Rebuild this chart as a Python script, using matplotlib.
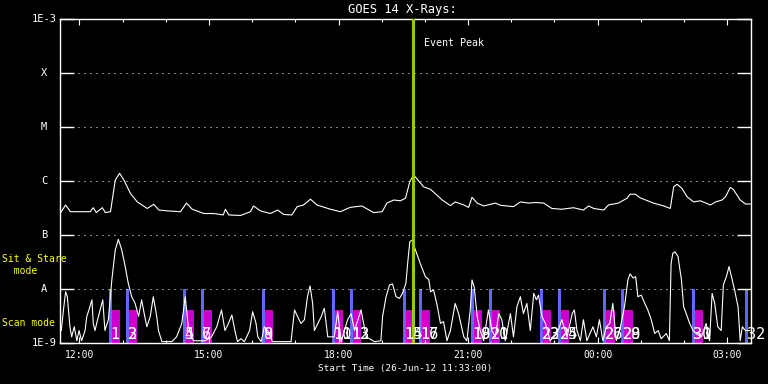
import matplotlib
matplotlib.use("Agg")
import matplotlib.pyplot as plt

plt.rcParams["font.family"] = ["DejaVu Sans Mono"]

START = "11:33"
PEAK = "19:44"

# GOES 14 long channel (1-8 A): hours after start, flux in W/m^2
long_t = [0.03, 0.13, 0.24, 0.70, 0.77, 0.84, 0.98, 1.05, 1.17, 1.21, 1.28, 1.38, 1.48,
          1.63, 1.79, 2.02, 2.17, 2.29, 2.48, 2.79, 2.93, 3.06, 3.33, 3.56, 3.78, 3.83,
          3.91, 4.18, 4.41, 4.48, 4.64, 4.87, 5.04, 5.18, 5.37, 5.49, 5.64, 5.80, 5.95,
          6.26, 6.49, 6.72, 6.99, 7.26, 7.46, 7.57, 7.73, 7.88, 8.00, 8.10, 8.19, 8.42,
          8.58, 8.85, 9.04, 9.15, 9.35, 9.46, 9.54, 9.66, 9.81, 10.08, 10.20, 10.50,
          10.66, 10.85, 11.01, 11.20, 11.39, 11.62, 11.89, 12.12, 12.24, 12.36, 12.59,
          12.70, 12.93, 13.13, 13.20, 13.32, 13.43, 13.74, 13.98, 14.13, 14.21, 14.29,
          14.40, 14.52, 14.67, 14.83, 15.06, 15.18, 15.33, 15.41, 15.52, 15.59, 15.75,
          15.87, 15.98]
long_flux = [2.7e-7, 3.6e-7, 2.7e-7, 2.7e-7, 3.2e-7, 2.6e-7, 3.2e-7, 2.6e-7, 2.7e-7,
             4.45e-7, 1.04e-6, 1.39e-6, 1.04e-6, 5.9e-7, 4.1e-7, 3.1e-7, 3.7e-7, 2.9e-7,
             2.8e-7, 2.7e-7, 3.9e-7, 3.0e-7, 2.5e-7, 2.5e-7, 2.35e-7, 3.0e-7, 2.35e-7,
             2.3e-7, 2.7e-7, 3.45e-7, 2.8e-7, 2.5e-7, 2.9e-7, 2.4e-7, 2.35e-7, 3.35e-7,
             3.6e-7, 4.6e-7, 3.6e-7, 3.0e-7, 2.7e-7, 3.25e-7, 3.45e-7, 2.6e-7, 2.7e-7,
             3.9e-7, 4.45e-7, 4.3e-7, 4.8e-7, 9.7e-7, 1.29e-6, 7.8e-7, 7.0e-7, 4.45e-7,
             3.5e-7, 4.1e-7, 3.6e-7, 3.25e-7, 5.0e-7, 3.9e-7, 3.45e-7, 3.9e-7, 3.55e-7,
             3.35e-7, 4.1e-7, 3.9e-7, 4.0e-7, 3.9e-7, 3.1e-7, 3.0e-7, 3.2e-7, 2.9e-7,
             3.45e-7, 3.1e-7, 2.9e-7, 3.6e-7, 3.9e-7, 4.8e-7, 5.7e-7, 5.7e-7, 4.9e-7,
             3.9e-7, 3.45e-7, 3.1e-7, 7.8e-7, 8.7e-7, 7.3e-7, 5.1e-7, 4.1e-7, 4.3e-7,
             3.6e-7, 4.1e-7, 4.45e-7, 5.1e-7, 7.6e-7, 7.0e-7, 4.45e-7, 3.75e-7, 3.75e-7]

# short channel (0.5-4 A)
short_t = [0.03, 0.08, 0.13, 0.17, 0.23, 0.27, 0.33, 0.39, 0.44, 0.50, 0.58, 0.62, 0.67,
           0.74, 0.77, 0.81, 0.87, 0.93, 0.99, 1.04, 1.12, 1.20, 1.28, 1.35, 1.43, 1.51,
           1.58, 1.66, 1.74, 1.82, 1.89, 1.95, 2.01, 2.09, 2.16, 2.24, 2.28, 2.36, 2.59,
           2.70, 2.82, 2.90, 2.97, 3.09, 3.36, 3.51, 3.63, 3.74, 3.82, 3.90, 3.98, 4.05,
           4.11, 4.19, 4.27, 4.39, 4.46, 4.54, 4.58, 4.66, 4.73, 4.81, 4.92, 5.35, 5.43,
           5.50, 5.58, 5.66, 5.73, 5.79, 5.85, 5.89, 5.97, 6.05, 6.12, 6.20, 6.35, 6.43,
           6.51, 6.66, 6.74, 6.82, 6.97, 7.09, 7.28, 7.43, 7.47, 7.55, 7.63, 7.70, 7.78,
           7.86, 7.93, 8.01, 8.05, 8.10, 8.16, 8.19, 8.34, 8.46, 8.54, 8.58, 8.65, 8.73,
           8.81, 8.88, 8.96, 9.04, 9.15, 9.23, 9.35, 9.42, 9.50, 9.54, 9.59, 9.66, 9.73,
           9.81, 9.92, 10.00, 10.08, 10.16, 10.23, 10.31, 10.43, 10.50, 10.58, 10.66,
           10.73, 10.81, 10.89, 10.97, 11.03, 11.08, 11.16, 11.24, 11.35, 11.51, 11.62,
           11.74, 11.86, 11.91, 11.97, 12.05, 12.12, 12.20, 12.34, 12.42, 12.49, 12.57,
           12.65, 12.73, 12.80, 12.88, 12.96, 13.07, 13.15, 13.20, 13.27, 13.33, 13.38,
           13.46, 13.54, 13.61, 13.69, 13.77, 13.85, 13.92, 14.04, 14.11, 14.15, 14.19,
           14.24, 14.31, 14.39, 14.44, 14.50, 14.58, 14.66, 14.73, 14.85, 14.96, 15.04,
           15.10, 15.16, 15.23, 15.31, 15.36, 15.43, 15.49, 15.54, 15.62, 15.70, 15.75,
           15.80, 15.87, 15.97]
short_flux = [1.7e-9, 4.1e-9, 8.9e-9, 7.2e-9, 2.0e-9, 1.3e-9, 2.0e-9, 1.1e-9, 1.7e-9,
              1.1e-9, 1.7e-9, 3.1e-9, 4.1e-9, 6.3e-9, 2.3e-9, 1.7e-9, 2.7e-9, 4.1e-9,
              6.3e-9, 1.7e-9, 2.7e-9, 1.47e-8, 5.3e-8, 8.3e-8, 5.3e-8, 2.6e-8, 1.28e-8,
              7.2e-9, 5.4e-9, 3.1e-9, 6.3e-9, 3.5e-9, 2.0e-9, 3.1e-9, 7.2e-9, 3.1e-9,
              1.7e-9, 1.06e-9, 1.06e-9, 1.3e-9, 2.3e-9, 7.2e-9, 2.0e-9, 1.1e-9, 1.1e-9,
              1.3e-9, 2.0e-9, 4.1e-9, 1.7e-9, 2.3e-9, 3.3e-9, 1.7e-9, 1.06e-9, 1.2e-9,
              1.06e-9, 1.7e-9, 3.8e-9, 2.3e-9, 1.3e-9, 1.06e-9, 2.0e-9, 1.7e-9, 1.06e-9,
              1.06e-9, 4.1e-9, 3.1e-9, 2.3e-9, 2.7e-9, 7.2e-9, 1.14e-8, 5.4e-9, 1.7e-9,
              2.3e-9, 3.1e-9, 4.4e-9, 1.3e-9, 1.3e-9, 3.8e-9, 1.06e-9, 2.7e-9, 3.5e-9,
              1.7e-9, 4.1e-9, 1.3e-9, 1.06e-9, 1.1e-9, 3.1e-9, 7.2e-9, 1.19e-8, 1.24e-8,
              7.2e-9, 6.7e-9, 8.3e-9, 1.28e-8, 3.0e-8, 7.5e-8, 8.1e-8, 6.5e-8, 3.0e-8,
              1.69e-8, 1.5e-8, 8.9e-9, 9.6e-9, 5.1e-9, 2.3e-9, 2.5e-9, 1.1e-9, 1.7e-9,
              5.4e-9, 3.5e-9, 1.3e-9, 1.1e-9, 4.1e-9, 1.47e-8, 1.1e-8, 3.1e-9, 1.7e-9,
              1.1e-9, 4.1e-9, 1.7e-9, 1.3e-9, 3.5e-9, 2.7e-9, 1.1e-9, 3.5e-9, 1.3e-9,
              4.7e-9, 7.2e-9, 3.5e-9, 5.4e-9, 1.7e-9, 8.3e-9, 6.3e-9, 7.7e-9, 3.1e-9,
              2.3e-9, 1.1e-9, 1.5e-9, 2.7e-9, 1.3e-9, 3.5e-9, 4.1e-9, 1.7e-9, 1.1e-9,
              2.7e-9, 1.1e-9, 2.0e-9, 1.3e-9, 2.7e-9, 1.1e-9, 2.0e-9, 2.3e-9, 5.4e-9,
              1.1e-9, 1.7e-9, 4.7e-9, 1.47e-8, 1.9e-8, 1.6e-8, 1.69e-8, 7.2e-9, 7.7e-9,
              5.4e-9, 4.1e-9, 2.7e-9, 1.5e-9, 1.7e-9, 1.2e-9, 1.5e-9, 1.1e-9, 3.0e-8,
              4.6e-8, 4.9e-8, 4.0e-8, 1.47e-8, 4.7e-9, 3.5e-9, 2.3e-9, 1.7e-9, 1.5e-9,
              1.3e-9, 2.3e-9, 1.1e-9, 8.3e-9, 5.4e-9, 2.0e-9, 1.7e-9, 1.19e-8, 1.69e-8,
              2.6e-8, 1.8e-8, 9.6e-9, 4.7e-9, 1.1e-9, 2.0e-9, 1.7e-9, 1.7e-9]

# IRIS observation blocks (start times) and raster numbers
block_times = ["12:41", "13:05", "14:24", "14:49", "16:14", "17:51", "18:16", "19:29",
               "19:52", "21:04", "21:29", "22:40", "23:05", "00:08", "00:33", "02:11",
               "03:25"]
block_labels = [["1"], ["2", "3"], ["4", "5"], ["6", "7"], ["8", "9"], ["10", "11"],
                ["12", "13"], ["14", "15"], ["16", "17"], ["18", "19"], ["20", "21"],
                ["22", "23"], ["24", "25"], ["26", "27"], ["28", "29"], ["30", "31"],
                ["32"]]
has_scan = [True] * 16 + [False]

tick_labels = ["12:00", "15:00", "18:00", "21:00", "00:00", "03:00"]
level_values = [1e-9, 1e-8, 1e-7, 1e-6, 1e-5, 1e-4, 1e-3]
level_names = ["1E-9", "A", "B", "C", "M", "X", "1E-3"]
SPAN = 16.0  # hours shown


def hours_after_start(clock):
    h, m = (int(v) for v in clock.split(":"))
    h0, m0 = (int(v) for v in START.split(":"))
    return ((h * 60 + m) - (h0 * 60 + m0)) % 1440 / 60.0


W, H = 768, 384
fig = plt.figure(figsize=(W / 100, H / 100), dpi=100, facecolor="black")
ax = fig.add_axes([60 / W, 1 - 343 / H, 691 / W, 324 / H], facecolor="black")
ax.set_yscale("log")

# observation bars
blue_w, scan_off, scan_w = 0.068, 0.07, 0.19
for clock, labels, scan in zip(block_times, block_labels, has_scan):
    t = hours_after_start(clock)
    ax.bar(t, 1e-8 - 1e-9, bottom=1e-9, width=blue_w, align="edge",
           color="#6464ff", linewidth=0, zorder=1)
    if scan:
        ax.bar(t + scan_off, 4.1e-9 - 1e-9, bottom=1e-9, width=scan_w, align="edge",
               color="#cc00cc", linewidth=0, zorder=1)
    for lab in labels:
        ax.annotate(lab, (t, 1e-9), xytext=(1.0, 2.9), textcoords="offset points",
                    ha="left", va="baseline", color="white", fontsize=11, zorder=5,
                    annotation_clip=False)

ax.plot(long_t, long_flux, color="white", lw=0.8, zorder=3)
ax.plot(short_t, short_flux, color="white", lw=0.8, zorder=3)

peak_t = hours_after_start(PEAK)
ax.axvline(peak_t, color="#99cc00", lw=2.2, zorder=4)
ax.annotate("Event Peak", (peak_t, 1e-3), xytext=(7.5, -17.5), textcoords="offset points",
            ha="left", va="center", color="white", fontsize=7.2)

# axes styling
for sp in ax.spines.values():
    sp.set_color("white")
    sp.set_linewidth(1.0)
ax.set_yticks(level_values)
ax.set_yticklabels([])
ax.yaxis.set_minor_locator(matplotlib.ticker.NullLocator())
ax.tick_params(axis="y", which="major", direction="in", length=10, width=1.0,
               color="white", left=True, right=True)
ax.grid(axis="y", which="major", color="white", lw=0.72, linestyle=(0, (1, 5)))
for val, name in zip(level_values, level_names):
    ax.text(-0.023, val, name, transform=ax.get_yaxis_transform(), ha="center",
            va="center", color="white", fontsize=7.5)

tick_pos = [hours_after_start(s) for s in tick_labels]
minor_pos = [p + k for p in tick_pos for k in (1, 2) if p + k < SPAN]
ax.set_xticks(tick_pos)
ax.set_xticklabels(tick_labels, color="white", fontsize=7)
ax.set_xticks(minor_pos, minor=True)
ax.tick_params(axis="x", which="major", direction="in", length=4.3, width=0.8,
               color="white", top=True, bottom=True, pad=5)
ax.tick_params(axis="x", which="minor", direction="in", length=2.2, width=0.8,
               color="white", top=True, bottom=True)
ax.set_xlim(0, SPAN)
ax.set_ylim(1e-9, 1e-3)

fig.text(402 / W, 1 - 10 / H, "GOES 14 X-Rays:", ha="center", va="center",
         color="white", fontsize=8.7)
fig.text(405 / W, 1 - 368 / H, "Start Time (26-Jun-12 11:33:00)", ha="center",
         va="center", color="white", fontsize=6.7)
fig.text(2 / W, 1 - 265 / H, "Sit & Stare\n  mode", ha="left", va="center",
         color="yellow", fontsize=7, linespacing=1.2)
fig.text(2 / W, 1 - 323 / H, "Scan mode", ha="left", va="center",
         color="yellow", fontsize=7)

fig.savefig("out.png", dpi=100, facecolor="black")
